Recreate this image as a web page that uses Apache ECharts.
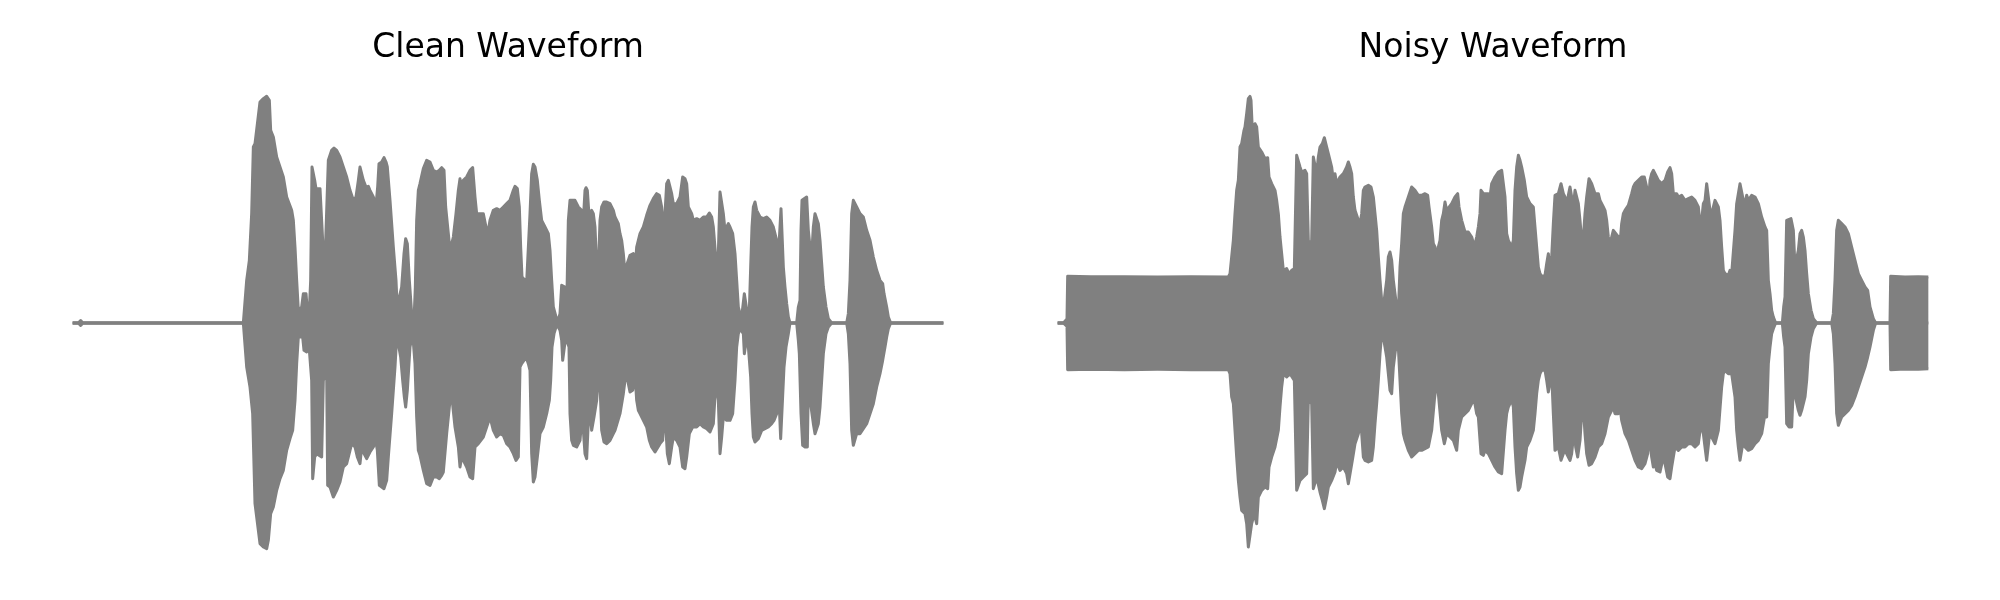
<!DOCTYPE html>
<html>
<head>
<meta charset="utf-8">
<script src="https://cdn.jsdelivr.net/npm/echarts@6.0.0/dist/echarts.min.js"></script>
<style>
html,body{margin:0;padding:0;background:#fff;}
#chart{width:2000px;height:600px;}
</style>
</head>
<body>
<div id="chart"></div>
<script>
// Envelope of the waveforms: [time (s), amplitude (int16 sample units)]
const titles = ['Clean Waveform', 'Noisy Waveform'];
const duration = 5.224;
const ampLimit = 30200;

const cleanUpper = [[0,0],[0.034,0],[0.048,300],[0.060,0],[1.024,0],
[1.044,5120],[1.060,7520],[1.074,13120],[1.084,21120],[1.094,21520],[1.124,26520],[1.144,26920],[1.164,27200],[1.180,26720],[1.188,23120],[1.204,22320],[1.224,19920],
[1.244,18720],[1.254,18800],[1.264,17520],[1.284,15120],[1.314,13520],[1.324,12320],[1.334,9120],[1.344,5120],[1.354,1520],[1.364,1720],[1.374,1920],[1.384,3520],[1.400,3520],[1.408,1520],[1.420,1520],[1.428,5120],[1.436,18720],[1.444,18800],[1.452,17120],[1.460,16120],[1.484,16120],[1.494,15920],[1.504,8320],[1.514,7320],[1.524,7520],[1.534,19520],[1.554,20720],[1.568,21000],[1.584,20720],[1.604,19920],[1.624,18720],[1.644,17520],[1.664,15920],[1.684,14720],[1.700,15120],[1.714,17120],[1.724,18720],[1.734,18920],[1.744,17120],[1.760,16320],[1.774,16400],[1.784,15920],[1.804,15120],[1.820,14120],[1.830,16320],[1.838,19120],[1.854,19320],[1.868,19840],[1.880,19320],[1.888,18720],[1.904,14720],[1.924,9120],[1.940,5120],[1.948,1520],[1.960,3120],[1.974,4320],[1.988,8320],[1.998,10120],[2.008,9520],[2.020,5120],[2.034,1120],[2.048,320],[2.056,4320],[2.064,12320],[2.074,15920],[2.084,16720],[2.104,18520],[2.124,19520],[2.144,19320],[2.164,18320],[2.184,18120],[2.200,18320],[2.214,18640],[2.228,18320],[2.238,13920],[2.254,10720],[2.264,8720],[2.274,8720],[2.284,10320],[2.300,13120],[2.314,15920],[2.324,17320],[2.334,16320],[2.344,17120],[2.364,17520],[2.384,18320],[2.400,18640],[2.414,15120],[2.424,13120],[2.444,13120],[2.464,13120],[2.480,11520],[2.494,11120],[2.504,12320],[2.524,13520],[2.544,13720],
[2.564,13520],[2.584,13920],[2.604,14320],[2.624,14720],[2.644,15920],[2.654,16400],[2.668,16120],[2.680,13920],[2.688,9120],[2.696,5520],[2.708,5320],[2.724,4920],[2.734,4720],[2.744,13120],[2.754,17920],[2.764,19040],[2.774,18720],[2.788,17120],[2.800,14720],[2.814,12320],[2.834,11520],[2.854,10720],[2.864,8720],[2.874,5120],[2.884,1920],[2.900,720],[2.914,400],[2.924,1120],[2.934,4520],[2.944,4640],[2.954,4320],[2.964,1520],[2.974,12320],[2.984,14720],[2.994,14920],[3.014,14720],[3.034,13920],[3.054,13520],[3.064,12320],[3.074,15920],[3.080,16240],[3.088,15920],[3.100,12320],[3.114,13520],[3.124,13120],[3.134,11520],[3.144,6720],[3.154,6320],[3.164,12320],[3.174,13920],[3.188,14520],[3.204,14520],[3.224,14320],[3.244,13520],[3.254,12720],[3.264,12920],[3.274,11920],[3.284,10720],[3.294,9920],[3.304,8320],[3.314,5920],[3.324,6920],[3.334,7120],[3.344,8120],[3.364,8320],[3.374,6320],[3.384,9120],[3.394,9920],[3.404,10720],[3.424,11520],[3.444,12920],[3.464,14120],[3.484,14920],[3.504,15520],[3.520,15320],[3.534,13920],[3.544,11520],[3.554,13120],[3.564,16720],[3.574,17120],[3.584,16920],[3.594,15520],[3.604,14320],[3.624,14320],[3.644,15120],[3.660,17520],[3.674,17320],[3.684,16720],[3.694,13920],[3.714,13120],[3.724,12320],[3.744,12520],[3.764,12320],[3.784,12720],[3.804,12720],[3.820,13200],[3.834,12720],[3.844,11520],[3.860,7520],[3.874,8320],
[3.884,15720],[3.894,15520],[3.904,13120],[3.914,11120],[3.924,11520],[3.934,11920],[3.944,11520],[3.960,10720],[3.974,8320],[3.984,5120],[3.994,1920],[4.004,1120],[4.014,720],[4.024,720],[4.030,3520],[4.040,3720],[4.048,1120],[4.060,1520],[4.068,6720],[4.076,11520],[4.084,13920],[4.094,14520],[4.104,13520],[4.124,12720],[4.144,12520],[4.164,12720],[4.184,12320],[4.204,11520],[4.224,9920],[4.234,7920],[4.244,7920],[4.250,13720],[4.258,13720],[4.264,6720],[4.274,4320],[4.284,2320],[4.294,720],[4.304,0],[4.344,0],[4.354,1920],[4.364,2720],[4.370,11120],[4.376,14720],[4.388,14720],[4.404,15120],[4.414,11120],[4.424,9120],[4.434,8120],[4.444,11520],[4.454,13120],[4.464,13320],[4.474,11920],[4.484,9920],[4.494,7120],[4.504,4320],[4.520,1920],[4.534,520],[4.554,0],[4.644,0],[4.654,1120],[4.664,5120],[4.674,13120],[4.684,14720],[4.694,14920],[4.704,13920],[4.724,13120],[4.744,12720],[4.764,11120],[4.784,9920],[4.804,7920],[4.824,6320],[4.844,5120],[4.860,4720],[4.868,3520],[4.884,1920],[4.894,720],[4.908,0],[5.224,0]];

const cleanLower = [[0,0],[0.034,0],[0.048,-300],[0.060,0],[1.024,0],
[1.044,-5280],[1.064,-7680],[1.080,-10880],[1.094,-21680],[1.124,-26480],[1.144,-26880],[1.164,-27080],[1.174,-26080],[1.188,-22880],[1.204,-22080],[1.224,-20080],
[1.244,-18680],[1.264,-17680],[1.284,-15280],[1.304,-13880],[1.320,-12880],[1.334,-9280],[1.344,-4880],[1.354,-1680],[1.364,-1480],[1.380,-1680],[1.388,-3280],[1.404,-3480],[1.414,-1680],[1.424,-1680],[1.434,-6880],[1.440,-18680],[1.452,-16080],[1.464,-15680],[1.494,-16080],[1.504,-6880],[1.514,-6480],[1.524,-6080],[1.530,-19480],[1.544,-19680],[1.564,-20880],[1.584,-20080],[1.604,-19080],[1.624,-17280],[1.644,-16880],[1.664,-15280],[1.674,-14480],[1.694,-14880],[1.708,-16080],[1.724,-16880],[1.734,-14880],[1.748,-15680],[1.764,-16280],[1.774,-15880],[1.784,-15480],[1.804,-14880],[1.818,-14080],[1.828,-15280],[1.840,-19480],[1.854,-19680],[1.868,-19880],[1.884,-18880],[1.894,-16080],[1.914,-10880],[1.934,-5280],[1.944,-1680],[1.954,-2480],[1.968,-4080],[1.980,-6880],[1.990,-8880],[1.998,-10080],[2.008,-8080],[2.024,-2880],[2.040,-1280],[2.054,-4880],[2.064,-11280],[2.074,-15280],[2.084,-15880],[2.104,-17680],[2.124,-19280],[2.144,-19480],[2.164,-18480],[2.184,-18480],[2.200,-18680],[2.214,-18280],[2.224,-17880],[2.244,-13280],[2.264,-9280],[2.274,-8680],[2.294,-12480],[2.314,-14880],[2.324,-17280],[2.334,-16080],[2.344,-16480],[2.364,-17280],[2.384,-18480],[2.400,-18680],[2.414,-14880],[2.434,-14480],[2.464,-13680],[2.484,-12480],[2.504,-11280],[2.524,-12880],[2.544,-13680],
[2.564,-13280],[2.584,-13480],[2.604,-14480],[2.624,-14880],[2.644,-15680],[2.660,-16480],[2.674,-16080],[2.684,-5280],[2.694,-4880],[2.708,-4480],[2.724,-4280],[2.734,-4880],[2.744,-5680],[2.754,-15680],[2.764,-19080],[2.774,-18480],[2.788,-16080],[2.804,-13280],[2.824,-12480],[2.844,-10880],[2.860,-9280],[2.868,-6880],[2.876,-2880],[2.888,-1280],[2.900,-480],[2.914,-480],[2.924,-880],[2.934,-2080],[2.940,-4480],[2.948,-4680],[2.958,-1680],[2.968,-1680],[2.978,-2880],[2.984,-10880],[2.994,-14080],[3.004,-14680],[3.024,-14880],[3.044,-14080],[3.054,-11680],[3.064,-12880],[3.074,-15680],[3.084,-16280],[3.094,-11680],[3.104,-10880],[3.114,-12880],[3.128,-11280],[3.144,-9280],[3.156,-5680],[3.164,-7280],[3.174,-12880],[3.188,-14280],[3.204,-14480],[3.224,-14080],[3.244,-13280],[3.254,-12880],[3.264,-12680],[3.284,-10880],[3.304,-8480],[3.314,-6880],[3.324,-6080],[3.334,-7280],[3.344,-8280],[3.360,-8080],[3.374,-6080],[3.384,-9280],[3.394,-10480],[3.404,-10880],[3.424,-11680],[3.444,-12480],[3.460,-14080],[3.474,-14880],[3.494,-15480],[3.504,-15280],[3.524,-14480],[3.540,-14080],[3.548,-11280],[3.560,-12880],[3.568,-15680],[3.580,-16880],[3.594,-14880],[3.604,-13680],[3.624,-14080],[3.644,-14880],[3.660,-17280],[3.674,-17480],[3.684,-16080],[3.700,-13280],[3.720,-12480],[3.744,-12480],[3.764,-12080],[3.784,-12480],[3.804,-12680],[3.824,-13080],[3.844,-12080],[3.860,-6880],[3.874,-9280],
[3.884,-15680],[3.894,-13680],[3.904,-11280],[3.924,-11680],[3.944,-11680],[3.960,-10880],[3.974,-6880],[3.984,-2880],[3.994,-1280],[4.004,-680],[4.014,-480],[4.024,-1280],[4.030,-3680],[4.040,-3880],[4.048,-1280],[4.060,-1280],[4.068,-6480],[4.076,-10880],[4.084,-13680],[4.094,-14280],[4.114,-13880],[4.134,-12880],[4.154,-12680],[4.174,-12480],[4.194,-12080],[4.208,-11680],[4.224,-10880],[4.240,-10080],[4.248,-13880],[4.260,-13880],[4.268,-5280],[4.280,-2880],[4.294,-1280],[4.304,0],[4.344,0],[4.354,-2080],[4.360,-3680],[4.370,-10880],[4.380,-14680],[4.394,-14880],[4.408,-14880],[4.414,-7680],[4.424,-7680],[4.444,-12080],[4.454,-13280],[4.464,-13080],[4.474,-12080],[4.484,-10080],[4.494,-6880],[4.504,-3680],[4.520,-1280],[4.534,-480],[4.554,0],[4.644,0],[4.654,-1280],[4.664,-4880],[4.674,-12880],[4.684,-14680],[4.694,-14880],[4.704,-13280],[4.724,-13280],[4.744,-12680],[4.764,-12080],[4.784,-10880],[4.804,-9680],[4.824,-7680],[4.844,-6080],[4.860,-4480],[4.874,-2880],[4.884,-1680],[4.894,-680],[4.908,0],[5.224,0]];

const noisyUpper = [[0,0],[0.034,0],[0.056,480],[0.060,5600],[0.200,5560],[0.400,5560],[0.600,5520],[0.800,5560],[1.024,5520],
[1.034,5920],[1.044,7920],[1.054,9920],[1.064,13120],[1.074,15920],[1.084,17120],[1.094,21120],[1.104,21520],[1.118,23120],[1.124,23520],[1.134,25120],[1.144,26920],[1.154,27200],[1.160,26720],[1.168,23120],[1.184,23920],[1.194,23520],[1.204,21120],[1.224,20520],
[1.244,19720],[1.260,19840],[1.268,17520],[1.284,16720],[1.304,15920],[1.314,14720],[1.324,13120],[1.334,10320],[1.344,8320],[1.354,6320],[1.364,6120],[1.374,6520],[1.388,5920],[1.404,6320],[1.420,6520],[1.428,6720],[1.434,20120],[1.444,20320],[1.454,18720],[1.464,18120],[1.484,18320],[1.494,17920],[1.504,9920],[1.514,9520],[1.524,9920],[1.534,19920],[1.544,20000],[1.554,17920],[1.564,19920],[1.574,21120],[1.588,21520],[1.600,22240],[1.614,21120],[1.624,20320],[1.644,18720],[1.654,17120],[1.664,17920],[1.674,16720],[1.684,17120],[1.694,17520],[1.714,17920],[1.724,18320],[1.734,18720],[1.744,19320],[1.754,18720],[1.764,17920],[1.774,15120],[1.784,13520],[1.804,12320],[1.814,11920],[1.824,13120],[1.834,15920],[1.844,16320],[1.854,16320],[1.864,16520],[1.880,16320],[1.894,15120],[1.904,13120],[1.914,11120],[1.924,7920],[1.934,5120],[1.944,2720],[1.954,1920],[1.964,3520],[1.974,5120],[1.984,7920],[1.994,8520],[2.004,7520],[2.014,5120],[2.024,3520],[2.034,1920],[2.044,1120],[2.054,6720],[2.064,9520],[2.074,13120],[2.084,13920],[2.104,15120],[2.124,16320],[2.144,15920],[2.164,15320],[2.184,15320],[2.204,15520],[2.220,15320],[2.228,13920],[2.244,11520],[2.254,9520],[2.264,9120],[2.274,7520],[2.284,9120],[2.294,9920],[2.304,12320],[2.314,13120],[2.324,14520],[2.334,13520],[2.344,13720],[2.364,14320],[2.384,15120],[2.400,15520],[2.408,13920],[2.424,12320],[2.444,10920],[2.464,10920],[2.484,10320],[2.500,9120],[2.514,10320],[2.524,11520],[2.534,13120],[2.540,15920],[2.554,15520],
[2.564,15520],[2.584,15520],[2.594,15120],[2.604,16720],[2.614,17120],[2.624,17520],[2.644,18120],[2.664,18320],[2.674,18240],[2.684,15120],[2.694,10720],[2.704,9920],[2.714,9520],[2.724,9120],[2.734,9920],[2.744,15920],[2.754,18720],[2.764,20120],[2.774,19520],[2.784,18720],[2.800,17120],[2.814,15120],[2.834,14320],[2.854,13920],[2.864,11520],[2.874,9120],[2.884,6720],[2.894,5920],[2.904,5600],[2.924,5720],[2.934,7120],[2.944,8320],[2.954,6320],[2.964,7920],[2.974,11920],[2.984,15320],[2.994,15320],[3.004,15520],[3.020,16720],[3.034,15520],[3.044,15120],[3.054,13920],[3.064,15320],[3.074,16320],[3.084,16320],[3.094,13920],[3.104,15920],[3.114,15920],[3.124,14320],[3.134,12320],[3.144,9920],[3.154,10320],[3.164,13120],[3.174,15120],[3.188,17320],[3.204,16720],[3.224,15520],[3.244,15520],[3.254,14720],[3.264,14720],[3.274,13920],[3.284,13520],[3.294,12320],[3.304,10320],[3.314,9520],[3.324,10320],[3.334,11120],[3.344,10920],[3.364,10320],[3.374,9520],[3.384,11920],[3.394,13120],[3.404,13520],[3.424,14120],[3.444,15520],[3.454,16320],[3.464,16720],[3.484,17120],[3.504,17520],[3.520,17520],[3.534,16320],[3.544,13920],[3.554,17120],[3.564,17920],[3.574,18320],[3.584,17920],[3.594,17520],[3.604,17120],[3.624,16720],[3.644,17120],[3.660,18120],[3.674,18640],[3.684,17920],[3.694,15520],[3.714,15520],[3.724,15120],[3.744,15320],[3.764,14720],[3.784,14920],[3.804,15120],[3.824,14720],[3.844,13920],[3.854,11920],[3.864,12320],[3.874,14320],
[3.884,14720],[3.894,16720],[3.904,16800],[3.914,13520],[3.924,13120],[3.934,13920],[3.944,14720],[3.954,14520],[3.964,13920],[3.974,12320],[3.984,9120],[3.994,6320],[4.004,5920],[4.014,5720],[4.024,5720],[4.034,6320],[4.044,5920],[4.054,5920],[4.064,11120],[4.074,14320],[4.084,15520],[4.094,16720],[4.104,16720],[4.114,14720],[4.124,14320],[4.134,15320],[4.144,14720],[4.164,15320],[4.184,15120],[4.204,14320],[4.224,12720],[4.234,12720],[4.244,11520],[4.254,11120],[4.264,5120],[4.274,3520],[4.284,1520],[4.294,720],[4.308,0],[4.348,0],[4.356,1920],[4.364,3120],[4.374,12320],[4.384,12320],[4.400,12520],[4.408,12720],[4.414,11120],[4.424,6720],[4.444,8720],[4.454,10720],[4.464,11120],[4.474,10320],[4.484,8720],[4.494,5920],[4.504,3520],[4.520,1520],[4.534,520],[4.554,0],[4.644,0],[4.654,1120],[4.664,5120],[4.674,11120],[4.684,12320],[4.694,12520],[4.704,11920],[4.724,11520],[4.744,10720],[4.764,9120],[4.784,7520],[4.804,5920],[4.824,5120],[4.844,4320],[4.860,3920],[4.874,1920],[4.894,520],[4.908,0],[4.994,0],[4.998,5600],[5.004,5600],[5.084,5520],[5.164,5560],[5.224,5520]];

const noisyLower = [[0,0],[0.034,0],[0.056,-400],[0.060,-5600],[0.200,-5560],[0.400,-5600],[0.600,-5560],[0.800,-5600],[1.024,-5600],
[1.034,-6080],[1.044,-8880],[1.054,-9680],[1.064,-12880],[1.074,-16080],[1.084,-18880],[1.094,-20880],[1.104,-22480],[1.124,-22880],[1.134,-24080],[1.144,-26880],[1.154,-27080],[1.164,-24080],[1.180,-22880],[1.194,-24080],[1.204,-20880],[1.224,-20080],
[1.244,-19680],[1.260,-19880],[1.268,-17280],[1.284,-16080],[1.304,-14880],[1.324,-12880],[1.334,-10080],[1.344,-7680],[1.354,-6080],[1.374,-6480],[1.394,-6080],[1.404,-6280],[1.420,-6880],[1.434,-20080],[1.444,-20280],[1.454,-18880],[1.474,-18480],[1.494,-18080],[1.504,-9280],[1.514,-9280],[1.524,-9680],[1.534,-19880],[1.544,-20080],[1.554,-18480],[1.574,-20280],[1.588,-21280],[1.600,-22280],[1.614,-20880],[1.624,-19680],[1.644,-18880],[1.664,-17880],[1.674,-16680],[1.694,-17680],[1.714,-17280],[1.734,-18080],[1.744,-19280],[1.754,-19080],[1.768,-16480],[1.784,-14480],[1.804,-13280],[1.820,-12080],[1.834,-16080],[1.844,-16480],[1.864,-16680],[1.884,-16480],[1.894,-14880],[1.904,-12080],[1.914,-9680],[1.924,-6880],[1.934,-3680],[1.944,-1280],[1.954,-1680],[1.964,-2880],[1.974,-4080],[1.984,-6080],[1.994,-8080],[2.004,-8480],[2.014,-5280],[2.024,-3680],[2.040,-1280],[2.054,-6880],[2.064,-10880],[2.074,-13280],[2.084,-14080],[2.104,-15280],[2.124,-16080],[2.144,-15680],[2.164,-15280],[2.184,-15280],[2.204,-15080],[2.224,-14880],[2.244,-12880],[2.260,-9280],[2.274,-6880],[2.284,-8480],[2.304,-12880],[2.320,-14480],[2.334,-13280],[2.354,-13680],[2.374,-14080],[2.394,-15280],[2.404,-12880],[2.424,-11280],[2.444,-10880],[2.464,-10480],[2.484,-9680],[2.500,-9280],[2.514,-10880],[2.524,-11280],[2.540,-15680],[2.554,-15880],
[2.564,-15280],[2.584,-15680],[2.604,-16480],[2.624,-17280],[2.644,-17880],[2.664,-18080],[2.674,-18080],[2.684,-12880],[2.694,-10880],[2.704,-10080],[2.714,-9680],[2.724,-9080],[2.734,-10080],[2.744,-14880],[2.754,-18080],[2.764,-20080],[2.774,-19680],[2.784,-18480],[2.804,-16480],[2.814,-14880],[2.834,-14080],[2.854,-12880],[2.864,-10880],[2.874,-8480],[2.884,-6880],[2.894,-6080],[2.904,-5680],[2.924,-5680],[2.934,-6880],[2.944,-8280],[2.954,-8080],[2.964,-6080],[2.974,-10880],[2.984,-15280],[2.994,-15280],[3.004,-14880],[3.020,-16480],[3.034,-15680],[3.044,-15280],[3.064,-16080],[3.074,-16480],[3.084,-15680],[3.100,-12480],[3.108,-14880],[3.120,-16080],[3.134,-14080],[3.144,-10880],[3.154,-10080],[3.164,-13280],[3.174,-15680],[3.188,-17080],[3.204,-16880],[3.224,-16080],[3.244,-14880],[3.264,-14480],[3.284,-13280],[3.304,-11280],[3.324,-10480],[3.334,-10080],[3.344,-10880],[3.364,-10880],[3.374,-10080],[3.384,-11680],[3.404,-13280],[3.424,-14080],[3.444,-15280],[3.464,-16480],[3.484,-17280],[3.504,-17480],[3.524,-16880],[3.540,-15680],[3.548,-13280],[3.564,-16080],[3.574,-17280],[3.584,-16880],[3.594,-17680],[3.614,-17880],[3.634,-16080],[3.644,-16880],[3.660,-18480],[3.674,-18680],[3.684,-17280],[3.704,-14880],[3.724,-15280],[3.744,-14880],[3.764,-14880],[3.784,-14480],[3.804,-14480],[3.824,-14880],[3.844,-14480],[3.860,-12080],[3.874,-13280],
[3.884,-14880],[3.894,-16480],[3.904,-16680],[3.914,-12880],[3.924,-13680],[3.944,-14480],[3.954,-14480],[3.964,-12880],[3.984,-7680],[3.994,-6080],[4.004,-5680],[4.024,-6080],[4.034,-5880],[4.044,-6080],[4.054,-6080],[4.064,-8880],[4.074,-12880],[4.084,-14880],[4.094,-16480],[4.104,-16480],[4.114,-14080],[4.124,-14880],[4.144,-15280],[4.164,-15080],[4.184,-14480],[4.204,-14080],[4.224,-13280],[4.244,-10880],[4.254,-11280],[4.264,-4880],[4.274,-2880],[4.284,-1280],[4.294,-680],[4.308,0],[4.348,0],[4.356,-1680],[4.364,-2880],[4.374,-12080],[4.388,-12480],[4.404,-12480],[4.414,-7680],[4.424,-7680],[4.444,-10480],[4.454,-11080],[4.464,-10480],[4.484,-8880],[4.494,-6880],[4.504,-3680],[4.520,-1680],[4.534,-680],[4.554,0],[4.644,0],[4.654,-1280],[4.664,-4880],[4.674,-10880],[4.684,-12280],[4.694,-12080],[4.704,-11280],[4.724,-10880],[4.744,-10480],[4.764,-9880],[4.784,-8880],[4.804,-7680],[4.824,-6480],[4.844,-5280],[4.860,-4080],[4.874,-2880],[4.894,-880],[4.908,0],[4.994,0],[4.998,-5600],[5.084,-5520],[5.164,-5560],[5.224,-5480]];

// zero-amplitude baseline (silence level)
const baseline = [[0, 0], [duration, 0]];

const GRAY = '#808080';
const chart = echarts.init(document.getElementById('chart'), null, {renderer: 'canvas'});

function envSeries(data, idx) {
  return {
    type: 'line', xAxisIndex: idx, yAxisIndex: idx, data: data,
    symbol: 'none', showSymbol: false, smooth: false, sampling: 'none',
    silent: true, animation: false, clip: false,
    lineStyle: {color: GRAY, width: 3, join: 'round', cap: 'butt'},
    areaStyle: {color: GRAY, opacity: 1, origin: 0}
  };
}
function baseSeries(idx) {
  return {
    type: 'line', xAxisIndex: idx, yAxisIndex: idx, data: baseline,
    symbol: 'none', showSymbol: false, silent: true, animation: false, clip: false,
    lineStyle: {color: GRAY, width: 3, cap: 'butt'}, z: 3
  };
}

const gridLeft = [72.67, 1057.67];
const gridWidth = 870.67;

chart.setOption({
  backgroundColor: '#ffffff',
  animation: false,
  grid: gridLeft.map(l => ({left: l, width: gridWidth, top: 71.35, height: 503.3, outerBoundsMode: 'none', containLabel: false})),
  xAxis: [0, 1].map(i => ({type: 'value', gridIndex: i, min: 0, max: duration, show: false})),
  yAxis: [0, 1].map(i => ({type: 'value', gridIndex: i, min: -ampLimit, max: ampLimit, show: false})),
  graphic: titles.map((t, i) => ({
    type: 'text', x: gridLeft[i] + gridWidth / 2, y: 48.5, silent: true,
    style: {text: t, font: '33px "DejaVu Sans"', fill: '#000000',
            align: 'center', verticalAlign: 'middle', textAlign: 'center', textVerticalAlign: 'middle'}
  })),
  series: [
    envSeries(cleanUpper, 0), envSeries(cleanLower, 0), baseSeries(0),
    envSeries(noisyUpper, 1), envSeries(noisyLower, 1), baseSeries(1)
  ]
});
</script>
</body>
</html>
